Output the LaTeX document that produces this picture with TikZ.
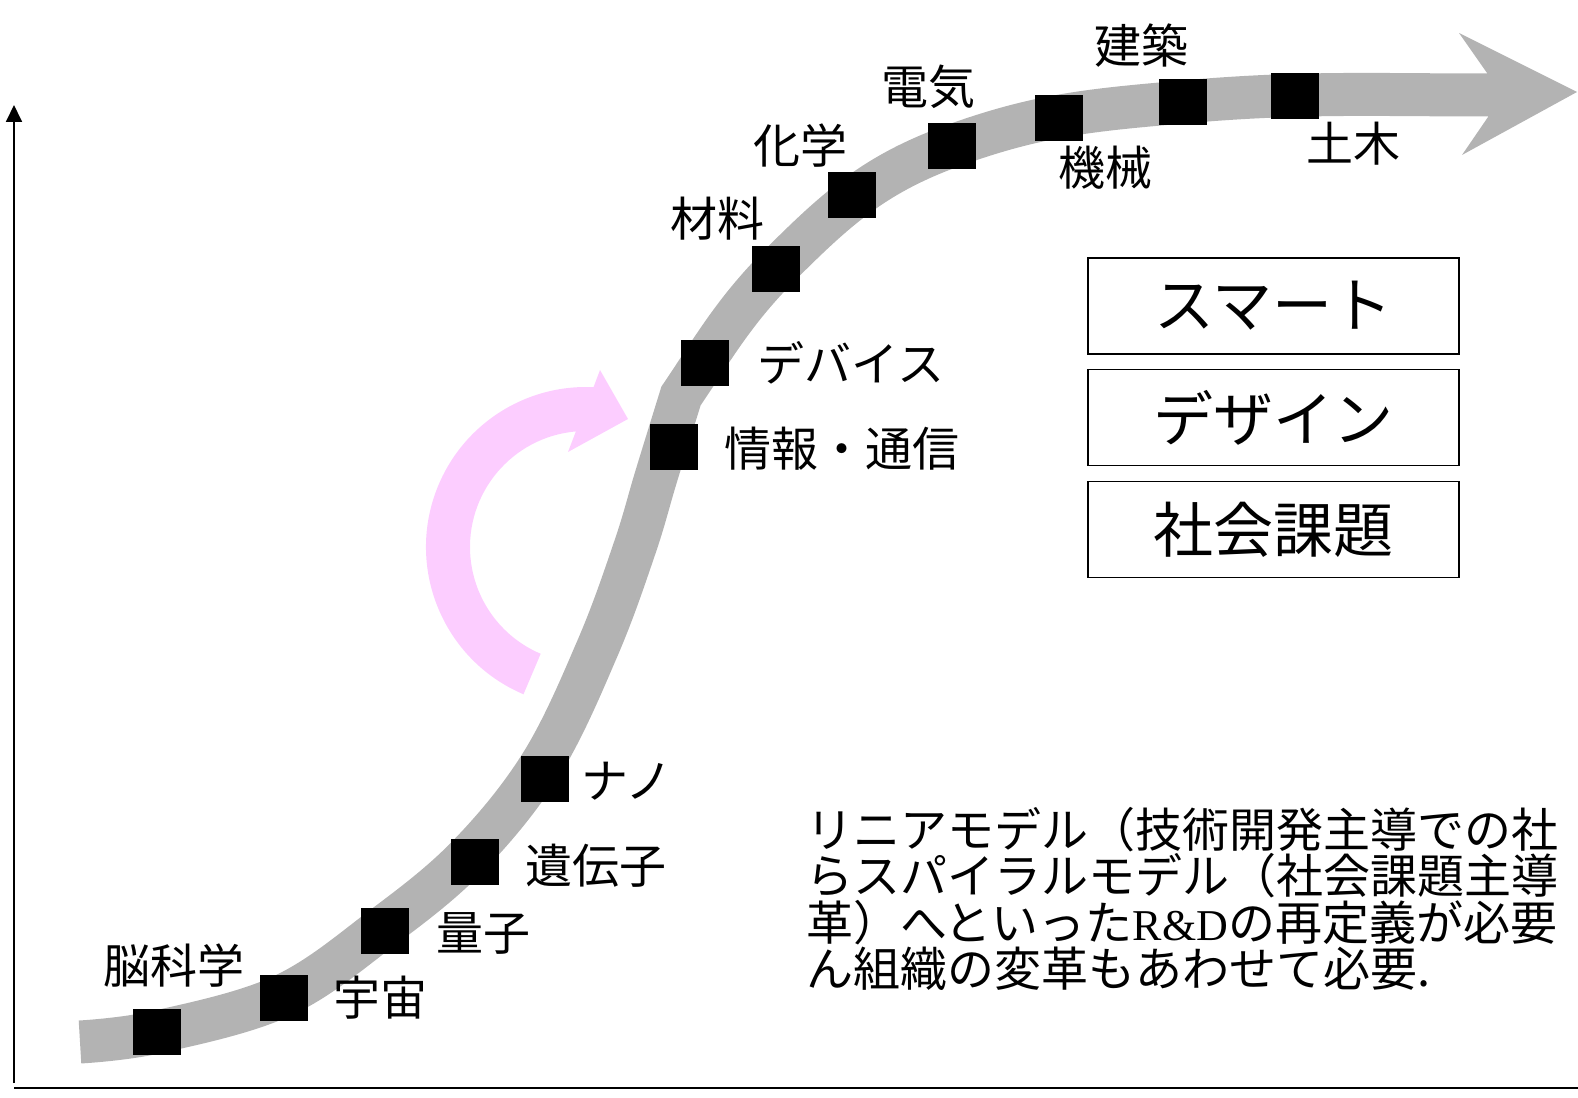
\documentclass[tikz,border=0pt]{standalone}
\usepackage{fontspec}
\setmainfont{Noto Sans CJK JP}
\newfontfamily\rdfont{Liberation Serif}
\usetikzlibrary{arrows.meta}
\definecolor{bandgray}{RGB}{179,179,179}
\definecolor{spiralpink}{RGB}{252,205,255}
\begin{document}
\begin{tikzpicture}[x=1pt,y=1pt,
  sqbox/.style={fill=black, minimum width=48pt, minimum height=46pt, inner sep=0pt, draw=none},
  lbl/.style={font=\fontsize{47}{50}\selectfont, inner sep=0pt},
  kbox/.style={draw=black, line width=1.3pt, minimum width=371pt, minimum height=96pt, font=\fontsize{60}{64}\selectfont, inner sep=0pt},
  band/.style={draw=bandgray, line width=43pt, line cap=butt, line join=miter},
  axis/.style={line width=1.8pt, draw=black}
]
\useasboundingbox (0,0) rectangle (1578,1097);

% axes
\coordinate (ybot) at (14,14);
\coordinate (ytop) at (14,992);
\coordinate (xl) at (14,9);
\coordinate (xr) at (1578,9);
\draw[axis, -{Triangle[width=16pt,length=17pt]}] (ybot) -- (ytop);
\draw[axis] (xl) -- (xr);

% pink spiral arrow
\fill[spiralpink] ([shift={(586,550)}]247:160) arc[start angle=247, end angle=87.3, radius=160]
  -- (600,727) -- (628,678) -- (568,645)
  -- ([shift={(586,550)}]95:116) arc[start angle=95, end angle=247, radius=116] -- cycle;

% grey S-curve band
\draw[band] plot[smooth, tension=0.6] coordinates {(80,55) (157,65) (282,101) (382,169) (468,241) (542,334) (598,450) (635,550) (656,620) (681,701)}
  to[out=56,in=226] (776,828) to[out=45,in=200] (952,951) to[out=20,in=185] (1183,995) to[out=5,in=180] (1490,1002);
\fill[bandgray] (1577,1005) -- (1459,1064) -- (1487,1024) -- (1488,980) -- (1462,942) -- cycle;

% squares
\node[sqbox] (s1) at (157,65) {};
\node[sqbox] (s2) at (284,99) {};
\node[sqbox] (s3) at (385,166) {};
\node[sqbox] (s4) at (475,235) {};
\node[sqbox] (s5) at (545,318) {};
\node[sqbox] (s6) at (674,650) {};
\node[sqbox] (s7) at (705,734) {};
\node[sqbox] (s8) at (776,828) {};
\node[sqbox] (s9) at (852,902) {};
\node[sqbox] (s10) at (952,951) {};
\node[sqbox] (s11) at (1059,979) {};
\node[sqbox] (s12) at (1183,995) {};
\node[sqbox] (s13) at (1295,1001) {};

% labels
\node[lbl] (l1) at (174,131) {脳科学};
\node[lbl] (l2) at (380,99) {宇宙};
\node[lbl] (l3) at (483,164) {量子};
\node[lbl] (l4) at (596,231) {遺伝子};
\node[lbl] (l5) at (627,316) {ナノ};
\node[lbl] (l6) at (842,648) {情報・通信};
\node[lbl] (l7) at (851,734) {デバイス};
\node[lbl] (l8) at (717,878) {材料};
\node[lbl] (l9) at (800,951) {化学};
\node[lbl] (l10) at (928,1010) {電気};
\node[lbl] (l11) at (1105,929) {機械};
\node[lbl] (l12) at (1141,1051) {建築};
\node[lbl] (l13) at (1353,953) {土木};

% keyword boxes
\node[kbox] (smart) at (1273.5,791) {スマート};
\node[kbox] (design) at (1273.5,679.5) {デザイン};
\node[kbox] (social) at (1273.5,567.5) {社会課題};

% note
\node[anchor=north west, align=left, font=\fontsize{47}{46.5}\selectfont, inner sep=0pt] (note) at (806,290)
 {リニアモデル（技術開発主導での社\\らスパイラルモデル（社会課題主導\\革）へといった{\rdfont\fontsize{44}{46.5}\selectfont R\&D}の再定義が必要\\ん組織の変革もあわせて必要.};
\end{tikzpicture}
\end{document}
